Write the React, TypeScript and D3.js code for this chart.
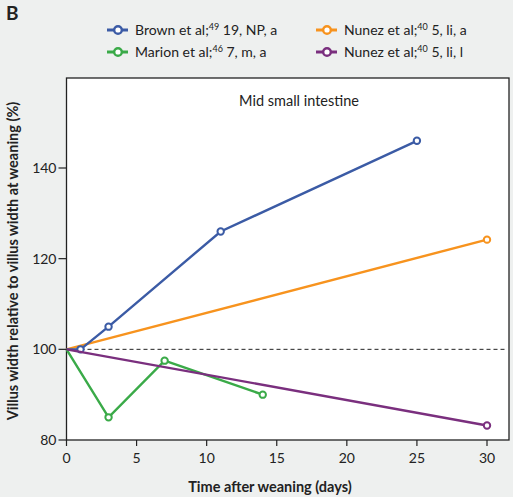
import React from "react";
import * as d3 from "d3";

const seriesNames = ["Brown et al;", "Marion et al;", "Nunez et al;", "Nunez et al;"];
const seriesRefs = ["49", "46", "40", "40"];
const seriesSuffix = [" 19, NP, a", " 7, m, a", " 5, li, a", " 5, li, l"];
const seriesColors = ["#3b5ba5", "#3aaa48", "#f7931e", "#7a2f7e"];

const brownX = [0, 1, 3, 11, 25];
const brownY = [100, 100, 105, 126, 146];
const marionX = [0, 3, 7, 14];
const marionY = [100, 85, 97.5, 90];
const nunezAX = [0, 30];
const nunezAY = [100, 124.2];
const nunezLX = [0, 30];
const nunezLY = [100, 83.2];

const xTicks = [0, 5, 10, 15, 20, 25, 30];
const yTicks = [80, 100, 120, 140];

export default function App() {
  const W = 513, H = 497;
  const left = 66.5, right = 509, top = 78, bottom = 440;
  const x = d3.scaleLinear().domain([0, 30]).range([left, 487]);
  const y = d3.scaleLinear().domain([80, 140]).range([bottom, 168]);
  const line = d3.line<[number, number]>().x(d => x(d[0])).y(d => y(d[1]));

  const series = [
    { xs: nunezAX, ys: nunezAY, c: seriesColors[2] },
    { xs: brownX, ys: brownY, c: seriesColors[0] },
    { xs: marionX, ys: marionY, c: seriesColors[1] },
    { xs: nunezLX, ys: nunezLY, c: seriesColors[3] },
  ];

  const legendItems = [
    { i: 0, gx: 107, ty: 30 },
    { i: 1, gx: 107, ty: 52 },
    { i: 2, gx: 316, ty: 30 },
    { i: 3, gx: 316, ty: 52 },
  ];

  const font = "Lato, 'Open Sans', sans-serif";

  return (
    <svg width={W} height={H} style={{ position: "absolute", left: 0, top: 0, background: "#eef0ef" }} fontFamily={font}>
      <rect x={0} y={0} width={W} height={H} fill="#eef0ef" />
      <text x={6} y={20} fontSize={19} fontWeight="bold" fill="#222">B</text>
      {legendItems.map(({ i, gx, ty }) => (
        <g key={i}>
          <line x1={gx} x2={gx + 21} y1={ty} y2={ty} stroke={seriesColors[i]} strokeWidth={3} />
          <circle cx={gx + 11} cy={ty} r={3.8} fill="#fff" stroke={seriesColors[i]} strokeWidth={2.4} />
          <text x={gx + 28} y={ty + 5} fontSize={14} fill="#222">
            {seriesNames[i]}
            <tspan fontSize={9} dy={-5}>{seriesRefs[i]}</tspan>
            <tspan dy={5}>{seriesSuffix[i]}</tspan>
          </text>
        </g>
      ))}
      <rect x={left} y={top} width={right - left} height={bottom - top} fill="#fff" stroke="#222" strokeWidth={1.3} />
      <text x={299} y={106} fontSize={14.5} textAnchor="middle" fill="#222">Mid small intestine</text>
      <line x1={left} x2={right - 4} y1={y(100)} y2={y(100)} stroke="#222" strokeWidth={1} strokeDasharray="4,3" />
      {series.map((s, k) => {
        const pts: [number, number][] = s.xs.map((v, j) => [v, s.ys[j]]);
        return (
          <g key={k}>
            <path d={line(pts) || ""} fill="none" stroke={s.c} strokeWidth={2.4} />
            {pts.slice(1).map((p, j) => (
              <circle key={j} cx={x(p[0])} cy={y(p[1])} r={3.2} fill="#fff" stroke={s.c} strokeWidth={2} />
            ))}
          </g>
        );
      })}
      {xTicks.map(t => (
        <g key={t}>
          <line x1={x(t)} x2={x(t)} y1={bottom} y2={bottom + 6} stroke="#222" strokeWidth={1.2} />
          <text x={x(t)} y={bottom + 23} fontSize={14} textAnchor="middle" fill="#222">{t}</text>
        </g>
      ))}
      {yTicks.map(t => (
        <g key={t}>
          <line x1={left - 8} x2={left} y1={y(t)} y2={y(t)} stroke="#222" strokeWidth={1.2} />
          <text x={left - 10} y={y(t) + 5} fontSize={14} textAnchor="end" fill="#222">{t}</text>
        </g>
      ))}
      <text x={270} y={492} fontSize={14.5} fontWeight="bold" textAnchor="middle" fill="#222">Time after weaning (days)</text>
      <text transform={`translate(18,${(top + bottom) / 2 + 2}) rotate(-90)`} fontSize={14.5} fontWeight="bold" textAnchor="middle" fill="#222">Villus width relative to villus width at weaning (%)</text>
    </svg>
  );
}
